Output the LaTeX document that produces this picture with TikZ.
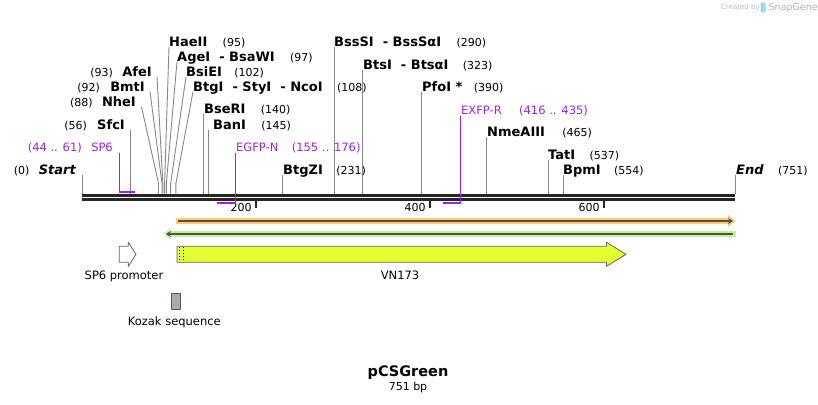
\documentclass[tikz,border=0pt]{standalone}
\usepackage{fontspec}
\setmainfont{DejaVu Sans}
\usetikzlibrary{positioning,arrows.meta}
\definecolor{primer}{RGB}{160,32,240}
\definecolor{sitegray}{RGB}{135,135,135}
\definecolor{vnfill}{RGB}{226,255,48}
\definecolor{orband}{RGB}{250,201,122}
\definecolor{orline}{RGB}{92,76,62}
\definecolor{grband}{RGB}{196,244,150}
\definecolor{grline}{RGB}{74,88,72}
\definecolor{kozak}{RGB}{167,171,176}
\definecolor{sglogo}{RGB}{160,212,242}
\tikzset{
  ename/.style={inner sep=0pt, font=\fontsize{13}{15}\selectfont\bfseries},
  enum/.style={inner sep=0pt, font=\fontsize{11}{13}\selectfont},
  pname/.style={inner sep=0pt, text=primer, font=\fontsize{11.5}{13}\selectfont},
  flabel/.style={inner sep=0pt, font=\fontsize{11.5}{13}\selectfont},
  cutline/.style={draw=sitegray, line width=0.9pt},
  primerline/.style={draw=primer, line width=1.3pt},
  primerbar/.style={draw=primer, line width=2pt},
  backbone/.style={draw=black!85, line width=2.7pt},
  tickmark/.style={draw=black!85, line width=1.8pt},
}
\begin{document}
\begin{tikzpicture}[x=1pt,y=-1pt,>={Stealth[length=5pt,width=6pt]},line join=round]
\useasboundingbox (0,0) rectangle (818,404);
% cut sites on the backbone
\foreach \p in {0,56,88,92,93,95,97,102,108,140,145,231,290,323,390,465,537,554,751}
  \coordinate (c\p) at ({82+0.8695*\p},193.5);
\coordinate (sp6a) at (119.3,191.5);
\coordinate (sp6b) at (135,191.5);
\coordinate (egfpa) at (235.5,203);
\coordinate (egfpb) at (217,203);
\coordinate (exfpa) at (460.5,203);
\coordinate (exfpb) at (443,203);

% backbone and ruler
\draw[backbone] (82,195.3) -- (735,195.3);
\draw[backbone] (82,199.7) -- (735,199.7);
\foreach \k in {200,400,600}{
  \coordinate (t\k) at ({82+0.8695*\k},201);
  \draw[tickmark] (t\k) -- ++(0,7);
  \node[enum, anchor=base east] (tl\k) at ([xshift=-4pt,yshift=-10pt]t\k) {\k};
}

% labels right of their site
\node[ename, anchor=base west] (hae) at (169,46.7) {HaeII};
\node[enum, right=15pt of hae.base east, anchor=base west] (hae-n) {(95)};
\node[ename, anchor=base west] (age) at (177,61.7) {AgeI~~-~BsaWI};
\node[enum, right=15pt of age.base east, anchor=base west] (age-n) {(97)};
\node[ename, anchor=base west] (bsie) at (186,76.7) {BsiEI};
\node[enum, right=12pt of bsie.base east, anchor=base west] (bsie-n) {(102)};
\node[ename, anchor=base west] (btg) at (193,91.7) {BtgI~~-~StyI~~-~NcoI};
\node[enum, right=14pt of btg.base east, anchor=base west] (btg-n) {(108)};
\node[ename, anchor=base west] (bser) at (204,113.7) {BseRI};
\node[enum, right=15pt of bser.base east, anchor=base west] (bser-n) {(140)};
\node[ename, anchor=base west] (ban) at (213,129.7) {BanI};
\node[enum, right=15pt of ban.base east, anchor=base west] (ban-n) {(145)};
\node[ename, anchor=base west] (btgz) at (283,174.7) {BtgZI};
\node[enum, right=13pt of btgz.base east, anchor=base west] (btgz-n) {(231)};
\node[ename, anchor=base west] (bsss) at (334,46.7) {BssSI~~-~BssSαI};
\node[enum, right=15pt of bsss.base east, anchor=base west] (bsss-n) {(290)};
\node[ename, anchor=base west] (bts) at (363,69.7) {BtsI~~-~BtsαI};
\node[enum, right=14pt of bts.base east, anchor=base west] (bts-n) {(323)};
\node[ename, anchor=base west] (pfo) at (422,91.7) {PfoI *};
\node[enum, right=11pt of pfo.base east, anchor=base west] (pfo-n) {(390)};
\node[ename, anchor=base west] (nme) at (487,136.7) {NmeAIII};
\node[enum, right=17pt of nme.base east, anchor=base west] (nme-n) {(465)};
\node[ename, anchor=base west] (tat) at (548,159.7) {TatI};
\node[enum, right=14pt of tat.base east, anchor=base west] (tat-n) {(537)};
\node[ename, anchor=base west] (bpm) at (563,174.7) {BpmI};
\node[enum, right=13pt of bpm.base east, anchor=base west] (bpm-n) {(554)};
\node[ename, anchor=base west] (endl) at (736,174.7) {\itshape End};
\node[enum, right=14pt of endl.base east, anchor=base west] (endl-n) {(751)};
\node[pname, anchor=base west] (egfp) at (236,151.2) {EGFP-N};
\node[pname, right=13pt of egfp.base east, anchor=base west] (egfp-n) {(155 .. 176)};
\node[pname, anchor=base west] (exfp) at (461,114.2) {EXFP-R};
\node[pname, right=17pt of exfp.base east, anchor=base west] (exfp-n) {(416 .. 435)};

% labels left of their site
\node[ename, anchor=base east] (start) at (76,174.7) {\itshape Start};
\node[enum, left=9pt of start.base west, anchor=base east] (start-n) {(0)};
\node[ename, anchor=base east] (sfc) at (125,129.7) {SfcI};
\node[enum, left=10pt of sfc.base west, anchor=base east] (sfc-n) {(56)};
\node[ename, anchor=base east] (nhe) at (136,106.7) {NheI};
\node[enum, left=9pt of nhe.base west, anchor=base east] (nhe-n) {(88)};
\node[ename, anchor=base east] (bmt) at (145,91.7) {BmtI};
\node[enum, left=10pt of bmt.base west, anchor=base east] (bmt-n) {(92)};
\node[ename, anchor=base east] (afe) at (152,76.7) {AfeI};
\node[enum, left=9pt of afe.base west, anchor=base east] (afe-n) {(93)};
\node[pname, anchor=base east] (sp6) at (113,151.2) {SP6};
\node[pname, left=9pt of sp6.base west, anchor=base east] (sp6-n) {(44 .. 61)};

% site lines
\draw[cutline] ([xshift=5.5pt]nhe.base east) -- ([yshift=10pt]c88) -- (c88);
\draw[cutline] ([xshift=5pt]bmt.base east) -- ([yshift=10pt]c92) -- (c92);
\draw[cutline] ([xshift=5pt]afe.base east) -- ([yshift=10pt]c93) -- (c93);
\draw[cutline] (hae.base west) -- ([yshift=10pt]c95) -- (c95);
\draw[cutline] (age.base west) -- ([yshift=10pt]c97) -- (c97);
\draw[cutline] (bsie.base west) -- ([yshift=10pt]c102) -- (c102);
\draw[cutline] (btg.base west) -- ([yshift=10pt]c108) -- (c108);
\draw[cutline] (c0 |- start.base) -- (c0);
\draw[cutline] (c56 |- sfc.base) -- (c56);
\draw[cutline] (c140 |- bser.base) -- (c140);
\draw[cutline] (c145 |- ban.base) -- (c145);
\draw[cutline] (c231 |- btgz.base) -- (c231);
\draw[cutline] (c290 |- bsss.base) -- (c290);
\draw[cutline] (c323 |- bts.base) -- (c323);
\draw[cutline] (c390 |- pfo.base) -- (c390);
\draw[cutline] (c465 |- nme.base) -- (c465);
\draw[cutline] (c537 |- tat.base) -- (c537);
\draw[cutline] (c554 |- bpm.base) -- (c554);
\draw[cutline] (c751 |- endl.base) -- (c751);

% primers
\draw[primerline] ([yshift=-1.5pt]sp6a |- sp6.base) -- (sp6a);
\draw[primerbar] (sp6a) -- (sp6b);
\draw[primerline] ([yshift=-1.5pt]egfpa |- egfp.base) -- (egfpa);
\draw[primerbar] (egfpa) -- (egfpb);
\draw[primerline] ([yshift=-1.5pt]exfpa |- exfp.base) -- (exfpa);
\draw[primerbar] (exfpa) -- (exfpb);

% orange and green bars
\draw[orband, line width=5.5pt] (176,221) -- (729,221);
\fill[orband] (728,215) -- (735.5,221) -- (728,227) -- cycle;
\draw[orline, line width=2pt, ->] (178,221) -- (733,221);
\draw[grband, line width=5.5pt] (169,234) -- (735.5,234);
\fill[grband] (170,228.5) -- (163.5,234) -- (170,239.5) -- cycle;
\draw[grline, line width=2pt, ->] (733,234) -- (166,234);

% features
\draw[fill=vnfill, draw=black!60, line width=0.8pt]
  (177,246.3) -- (606.5,246.3) -- (606.5,242.3) -- (626,254.3)
  -- (606.5,266.3) -- (606.5,262.3) -- (177,262.3) -- cycle;
\draw[dotted, line width=1pt] (179.5,247) -- (179.5,261.5);
\draw[dotted, line width=1pt] (183.3,247) -- (183.3,261.5);
\node[flabel] (vn) at (400,275.5) {VN173};
\draw[fill=white, draw=black!60, line width=0.8pt]
  (119.3,246.3) -- (128.3,246.3) -- (128.3,242.3) -- (136,254.3)
  -- (128.3,266.3) -- (128.3,262.3) -- (119.3,262.3) -- cycle;
\node[flabel] (sp6p) at (124,276) {SP6 promoter};
\draw[fill=kozak, draw=black!65, line width=0.8pt] (171.7,293.3) rectangle (180.7,309.3);
\node[flabel] (koz) at (174.3,322.7) {Kozak sequence};

% title
\node[inner sep=0pt, font=\fontsize{14.5}{16}\selectfont\bfseries] (title) at (408,373) {pCSGreen};
\node[enum] (len) at (408,387.5) {751 bp};

% credit
\node[inner sep=0pt, text=black!28, font=\fontsize{7}{8}\selectfont, anchor=west] (crby) at (721,7.5) {Created by};
\fill[sglogo, rounded corners=1pt] (760.5,2.5) rectangle (765.5,12.5);
\node[inner sep=0pt, text=black!30, font=\fontsize{9.5}{11}\selectfont, anchor=west] (sg) at (768.5,7.5) {SnapGene};
\end{tikzpicture}
\end{document}
